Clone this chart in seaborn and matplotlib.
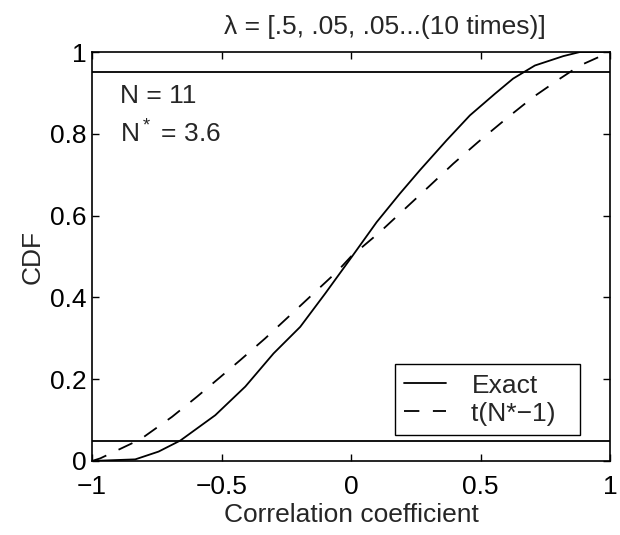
import numpy as np
import pandas as pd
import matplotlib
matplotlib.use("Agg")
import matplotlib.pyplot as plt
import seaborn as sns

# Data
exact_r = [-1.0, -0.961, -0.833, -0.743, -0.659, -0.524, -0.408, -0.299, -0.196, -0.099,
           0.004, 0.099, 0.189, 0.266, 0.369, 0.459, 0.556, 0.626, 0.710, 0.820, 0.884, 1.0]
exact_cdf = [0.0, 0.001, 0.004, 0.023, 0.050, 0.112, 0.182, 0.263, 0.328, 0.410,
             0.500, 0.584, 0.654, 0.711, 0.784, 0.845, 0.898, 0.935, 0.967, 0.990, 1.0, 1.0]

t_r = [-1.0, -0.968, -0.813, -0.691, -0.595, -0.505, -0.427, -0.331, -0.234, -0.144, -0.054,
       0.0, 0.112, 0.202, 0.299, 0.395, 0.491, 0.607, 0.704, 0.807, 0.884, 1.0]
t_cdf = [0.0, 0.0065, 0.053, 0.108, 0.157, 0.205, 0.247, 0.300, 0.357, 0.410, 0.463,
         0.50, 0.560, 0.613, 0.670, 0.727, 0.780, 0.841, 0.890, 0.935, 0.967, 1.0]

ref_levels = [0.05, 0.95]
xticks = [-1, -0.5, 0, 0.5, 1]
xtick_labels = ["\u22121", "\u22120.5", "0", "0.5", "1"]
yticks = [0, 0.2, 0.4, 0.6, 0.8, 1]
ytick_labels = ["0", "0.2", "0.4", "0.6", "0.8", "1"]

FS = 19

sns.set_style("ticks")
plt.rcParams["font.family"] = ["Liberation Sans", "DejaVu Sans"]
plt.rcParams["mathtext.fontset"] = "custom"
plt.rcParams["mathtext.rm"] = "Liberation Sans"
plt.rcParams["mathtext.it"] = "Liberation Sans:italic"

fig = plt.figure(figsize=(6.2, 5.35), dpi=100)
ax = fig.add_axes([92 / 620, 1 - 461 / 535, 518 / 620, 409 / 535])

df_exact = pd.DataFrame({"r": exact_r, "cdf": exact_cdf})
df_t = pd.DataFrame({"r": t_r, "cdf": t_cdf})

sns.lineplot(data=df_exact, x="r", y="cdf", ax=ax, color="black", linewidth=1.3,
             label="Exact", sort=True, estimator=None)
sns.lineplot(data=df_t, x="r", y="cdf", ax=ax, color="black", linewidth=1.3,
             label="t(N*\u22121)  ", sort=True, estimator=None)
ax.lines[1].set_dashes((8.5, 7.5))

for lvl in ref_levels:
    ax.axhline(lvl, color="black", linewidth=1.3)

ax.set_xlim(-1, 1)
ax.set_ylim(0, 1)
ax.set_xticks(xticks)
ax.set_xticklabels(xtick_labels)
ax.set_yticks(yticks)
ax.set_yticklabels(ytick_labels)
ax.tick_params(direction="in", length=5, width=1, labelsize=FS, top=True, right=True,
               colors="black")
ax.tick_params(axis="x", pad=10)
ax.tick_params(axis="y", pad=4)
for s in ax.spines.values():
    s.set_visible(True)
    s.set_color("black")
    s.set_linewidth(1.2)

ax.set_xlabel("Correlation coefficient", fontsize=FS, labelpad=3)
ax.set_ylabel("CDF", fontsize=FS, labelpad=4)
ax.set_title("\u03bb = [.5, .05, .05...(10 times)]", fontsize=FS, pad=13, x=0.565)

ax.text(-0.892, 0.875, "N = 11", fontsize=FS)
ax.text(-0.892, 0.778, "N$^*$ = 3.6", fontsize=FS)

leg = ax.legend(loc="lower right", bbox_to_anchor=(0.942, 0.064), fontsize=FS,
                frameon=True, fancybox=False, edgecolor="black", framealpha=1,
                handlelength=1.6, handletextpad=0.95, borderpad=0.35,
                labelspacing=0.15, borderaxespad=0)
leg.get_frame().set_linewidth(1.0)

fig.savefig("out.png", dpi=100)
